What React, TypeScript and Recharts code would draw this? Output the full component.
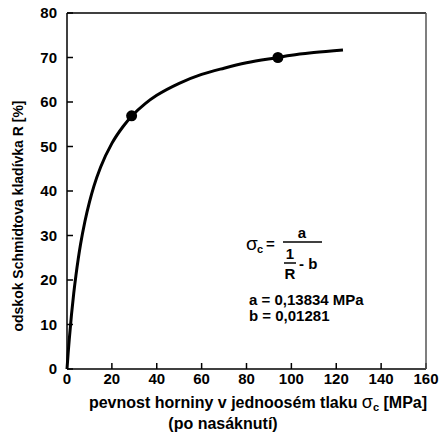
import { ComposedChart, Line, Scatter, XAxis, YAxis } from 'recharts';

// σc [MPa]
const sigma = [0, 0.5, 1, 2, 3, 4, 5, 6, 8, 10, 12, 15, 20, 25, 28.8, 35, 40, 50, 60, 70, 80, 94, 100, 110, 123];
// R [%]
const rebound = [0, 3.5, 6.6, 12.2, 17.0, 21.1, 24.7, 27.9, 33.2, 37.5, 41.1, 45.4, 50.7, 54.5, 56.8, 59.7, 61.5, 64.2, 66.2, 67.6, 68.8, 70.0, 70.5, 71.1, 71.7];

const markerSigma = [28.8, 94];
const markerR = [56.9, 70.0];

const xTicks = [0, 20, 40, 60, 80, 100, 120, 140, 160];
const yTicks = [0, 10, 20, 30, 40, 50, 60, 70, 80];

const curve = sigma.map((s, i) => ({ s, r: rebound[i] }));
const markers = markerSigma.map((s, i) => ({ s, r: markerR[i] }));

const FONT = '"Liberation Sans", Arial, sans-serif';
const tickStyle = { fontSize: 15, fontWeight: 700, fill: '#000', fontFamily: FONT };
const blank = () => '';

// eslint-disable-next-line @typescript-eslint/no-explicit-any
const Dot = (p: any) => <circle cx={p.cx} cy={p.cy} r={5.5} fill="#000" />;

export default function App() {
  return (
    <div style={{ position: 'absolute', left: 0, top: 0, width: 442, height: 438, background: '#fff' }}>
      <ComposedChart width={442} height={438} margin={{ top: 0, right: 0, bottom: 0, left: 0 }}>
        <XAxis
          xAxisId="b"
          type="number"
          dataKey="s"
          domain={[0, 160]}
          ticks={xTicks}
          orientation="bottom"
          height={69}
          tickSize={-6}
          tickMargin={10}
          tick={tickStyle}
          stroke="#000"
          strokeWidth={1.5}
          interval={0}
        />
        <XAxis
          xAxisId="t"
          type="number"
          dataKey="s"
          domain={[0, 160]}
          ticks={xTicks}
          orientation="top"
          height={13}
          tickSize={-6}
          tickFormatter={blank}
          stroke="#000"
          strokeWidth={1.5}
          interval={0}
        />
        <YAxis
          yAxisId="l"
          type="number"
          dataKey="r"
          domain={[0, 80]}
          ticks={yTicks}
          orientation="left"
          width={67}
          tickSize={-6}
          tickMargin={16}
          tick={tickStyle}
          stroke="#000"
          strokeWidth={1.5}
          interval={0}
        />
        <YAxis
          yAxisId="r"
          type="number"
          dataKey="r"
          domain={[0, 80]}
          ticks={yTicks}
          orientation="right"
          width={16}
          tickSize={-6}
          tickFormatter={blank}
          stroke="#555"
          strokeWidth={1.5}
          interval={0}
        />
        <Line
          xAxisId="b"
          yAxisId="l"
          data={curve}
          dataKey="r"
          type="monotone"
          stroke="#000"
          strokeWidth={3}
          dot={false}
          activeDot={false}
          isAnimationActive={false}
        />
        <Scatter
          xAxisId="b"
          yAxisId="l"
          data={markers}
          dataKey="r"
          fill="#000"
          shape={Dot}
          isAnimationActive={false}
        />
      </ComposedChart>
      <svg
        width={442}
        height={438}
        style={{ position: 'absolute', left: 0, top: 0, pointerEvents: 'none' }}
        fontFamily={FONT}
        fontWeight={700}
      >
        <text x={19} y={216} fontSize={14} textAnchor="middle" dominantBaseline="middle" transform="rotate(-90 19 216)">
          odskok Schmidtova kladívka R [%]
        </text>
        <text x={258} y={408} fontSize={16} textAnchor="middle">
          pevnost horniny v jednoosém tlaku <tspan fontWeight={400} fontSize={18}>σ</tspan>
          <tspan fontSize={11} dy={3}>c</tspan>
          <tspan dy={-3}> [MPa]</tspan>
        </text>
        <text x={223} y={429} fontSize={16} textAnchor="middle">
          (po nasáknutí)
        </text>
        <text x={246} y={250} fontSize={19} fontWeight={400}>σ</text>
        <text x={257} y={253} fontSize={11}>c</text>
        <text x={266} y={249} fontSize={15}>=</text>
        <line x1={283} y1={242} x2={322} y2={242} stroke="#000" strokeWidth={1.5} />
        <text x={302} y={238} fontSize={15} textAnchor="middle">a</text>
        <text x={290} y={259} fontSize={15} textAnchor="middle">1</text>
        <line x1={284} y1={263} x2={296} y2={263} stroke="#000" strokeWidth={1.5} />
        <text x={290} y={279} fontSize={15} textAnchor="middle">R</text>
        <text x={299} y={269} fontSize={15}>- b</text>
        <text x={249} y={305} fontSize={15}>a = 0,13834 MPa</text>
        <text x={249} y={321} fontSize={15}>b = 0,01281</text>
      </svg>
    </div>
  );
}
